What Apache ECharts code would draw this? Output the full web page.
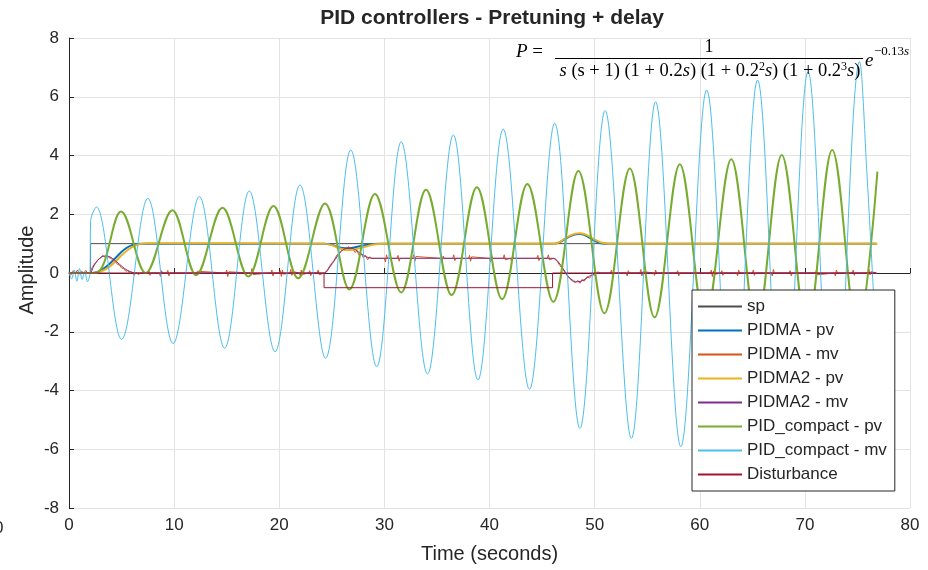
<!DOCTYPE html>
<html>
<head>
<meta charset="utf-8">
<script src="https://cdn.jsdelivr.net/npm/echarts@6/dist/echarts.min.js"></script>
<style>
  html, body { margin: 0; padding: 0; background: #fff; }
  #main { width: 928px; height: 570px; }
</style>
</head>
<body>
<div id="main"></div>
<script type="text/javascript">
// series names, in legend order
var names = ['sp', 'PIDMA - pv', 'PIDMA - mv', 'PIDMA2 - pv', 'PIDMA2 - mv',
             'PID_compact - pv', 'PID_compact - mv', 'Disturbance'];
var xTicks = [0, 80, 10];   // min, max, step
var yTicks = [-8, 8, 2];

// [time, value]
var spData = [[0, 0], [2.05, 0], [2.05, 1], [76.8, 1]];

var pidmaPv = [[0, 0], [2, 0], [2.5, 0.02], [3, 0.08], [3.5, 0.2], [4, 0.36], [4.5, 0.54], [5, 0.72],
  [5.5, 0.86], [6, 0.95], [6.5, 0.99], [7, 1], [24.3, 1], [25, 0.96], [25.5, 0.9], [26, 0.85],
  [26.5, 0.84], [27, 0.86], [27.5, 0.9], [28, 0.94], [28.5, 0.97], [29, 0.99], [29.5, 1], [46.2, 1],
  [46.7, 1.05], [47.2, 1.16], [47.7, 1.26], [48.2, 1.32], [48.6, 1.33], [49, 1.3], [49.5, 1.2],
  [50, 1.09], [50.5, 1.02], [51, 1], [76.8, 1]];

var pidma2Pv = [[0, 0], [2, 0], [2.5, 0.01], [3, 0.05], [3.5, 0.13], [4, 0.26], [4.5, 0.42], [5, 0.6],
  [5.5, 0.76], [6, 0.88], [6.5, 0.96], [7, 1], [7.5, 1.01], [24.3, 1], [25, 0.95], [25.5, 0.87],
  [26, 0.81], [26.5, 0.78], [27, 0.79], [27.5, 0.83], [28, 0.88], [28.5, 0.93], [29, 0.97],
  [29.5, 0.99], [30, 1], [46.2, 1], [46.7, 1.06], [47.2, 1.18], [47.7, 1.28], [48.2, 1.34],
  [48.6, 1.35], [49, 1.33], [49.5, 1.25], [50, 1.14], [50.5, 1.05], [51, 1.01], [51.5, 1], [76.9, 1]];

var pidmaMv = [[0, 0.02], [0.2, -0.06], [0.4, 0.08], [0.6, -0.02], [0.8, 0.1], [1.0, -0.04], [1.2, 0.06],
  [1.4, 0.0], [1.6, 0.09], [1.8, -0.03], [2.0, 0.02], [2.2, 0.18], [2.4, 0.3], [2.6, 0.38], [2.8, 0.47],
  [3.0, 0.5], [3.2, 0.6], [3.4, 0.55], [3.6, 0.62], [3.8, 0.52], [4.0, 0.5], [4.2, 0.42], [4.4, 0.4],
  [4.6, 0.3], [4.8, 0.27], [5.0, 0.17], [5.2, 0.15], [5.4, 0.06], [5.6, 0.08], [5.8, -0.02], [6.0, 0.04],
  [6.2, -0.08], [6.4, 0.02], [6.6, -0.06], [6.8, 0.0],
  [7.5, 0], [7.6, 0.1], [7.7, -0.08], [7.8, 0], [8.6, 0], [8.7, -0.12], [8.8, 0.08], [8.9, 0],
  [9.3, 0], [9.4, 0.09], [9.5, -0.1], [9.6, 0], [12.0, 0], [12.1, -0.1], [12.2, 0.06], [12.3, 0],
  [14.9, 0], [15.0, 0.1], [15.1, -0.12], [15.2, 0.04], [15.3, 0], [17.2, 0], [17.3, -0.09],
  [17.4, 0.15], [17.5, -0.05], [17.6, 0], [19.2, 0], [19.3, 0.1], [19.4, -0.1], [19.5, 0],
  [20.0, 0], [20.1, 0.08], [20.2, -0.12], [20.3, 0.1], [20.4, -0.04], [20.5, 0], [21.0, 0],
  [21.1, 0.12], [21.2, -0.08], [21.3, 0.05], [21.4, 0], [21.9, 0], [22.0, -0.1], [22.1, 0.1],
  [22.2, -0.05], [22.3, 0], [22.8, 0], [22.9, 0.08], [23.0, -0.09], [23.1, 0], [23.6, 0],
  [23.7, 0.1], [23.8, -0.06], [23.9, 0],
  [24.3, 0], [24.6, 0.12], [24.9, 0.3], [25.2, 0.42], [25.5, 0.62], [25.8, 0.72], [26.0, 0.8],
  [26.2, 0.86], [26.4, 0.78], [26.6, 0.9], [26.8, 0.8], [27.0, 0.82], [27.2, 0.7], [27.4, 0.76],
  [27.6, 0.6], [27.8, 0.66], [28.0, 0.52], [28.2, 0.6], [28.4, 0.45], [28.6, 0.55], [28.8, 0.5],
  [30.0, 0.5], [30.1, 0.38], [30.2, 0.62], [30.3, 0.5], [31.2, 0.5], [31.3, 0.6], [31.4, 0.4],
  [31.5, 0.5], [32.7, 0.5], [32.8, 0.62], [32.9, 0.4], [33.0, 0.56], [33.1, 0.5], [35.4, 0.5],
  [35.5, 0.4], [35.6, 0.58], [35.7, 0.5], [36.5, 0.5], [36.6, 0.62], [36.7, 0.42], [36.8, 0.5],
  [38.0, 0.5], [38.1, 0.6], [38.2, 0.4], [38.3, 0.55], [38.4, 0.5], [40.0, 0.5], [40.1, 0.38],
  [40.2, 0.6], [40.3, 0.5], [41.3, 0.5], [41.4, 0.62], [41.5, 0.45], [41.6, 0.5], [42.0, 0.5],
  [42.1, 0.4], [42.2, 0.6], [42.3, 0.5], [44.5, 0.5], [44.6, 0.6], [44.7, 0.42], [44.8, 0.5],
  [45.5, 0.5], [45.6, 0.62], [45.7, 0.45], [45.8, 0.5],
  [46.1, 0.5], [46.4, 0.42], [46.7, 0.25], [47.0, 0.12], [47.3, -0.05], [47.6, -0.18], [47.9, -0.28],
  [48.2, -0.33], [48.4, -0.25], [48.6, -0.35], [48.8, -0.22], [49.0, -0.28], [49.3, -0.12],
  [49.5, -0.18], [49.8, -0.05], [50.0, -0.08], [50.3, 0.04], [50.5, 0],
  [51.5, 0], [51.6, 0.1], [51.7, -0.08], [51.8, 0], [53.0, 0], [53.1, -0.1], [53.2, 0.08], [53.3, 0],
  [54.3, 0], [54.4, 0.12], [54.5, -0.1], [54.6, 0.05], [54.7, 0], [55.6, 0], [55.7, -0.08],
  [55.8, 0.1], [55.9, 0], [57.8, 0], [57.9, 0.08], [58.0, -0.1], [58.1, 0], [61.0, 0], [61.1, 0.1],
  [61.2, -0.12], [61.3, 0.06], [61.4, -0.05], [61.5, 0], [62.0, 0], [62.1, 0.08], [62.2, -0.08],
  [62.3, 0], [63.5, 0], [63.6, -0.1], [63.7, 0.1], [63.8, 0], [65.0, 0], [65.1, 0.1], [65.2, -0.08],
  [65.3, 0], [66.8, 0], [66.9, -0.1], [67.0, 0.12], [67.1, 0], [68.5, 0], [68.6, 0.08], [68.7, -0.1],
  [68.8, 0], [71.0, 0], [71.1, 0.1], [71.2, -0.06], [71.3, 0], [72.8, 0], [72.9, -0.1], [73.0, 0.1],
  [73.1, 0], [74.5, 0], [74.6, 0.1], [74.7, -0.08], [74.8, 0], [76.0, 0], [76.1, 0.12],
  [76.2, -0.06], [76.3, 0.05], [76.8, 0]];

var pidma2Mv = [[0, 0], [2, 0], [2.3, 0.2], [2.7, 0.42], [3.1, 0.55], [3.5, 0.58], [3.9, 0.55],
  [4.3, 0.45], [4.8, 0.3], [5.3, 0.15], [5.8, 0.05], [6.3, 0], [24.3, 0], [24.8, 0.2], [25.3, 0.45],
  [25.8, 0.7], [26.3, 0.83], [26.8, 0.85], [27.3, 0.78], [27.8, 0.65], [28.3, 0.55], [28.8, 0.5],
  [46.1, 0.5], [46.5, 0.4], [47, 0.15], [47.5, -0.12], [48, -0.27], [48.4, -0.3], [48.9, -0.25],
  [49.4, -0.13], [49.9, -0.04], [50.4, 0], [76.8, 0]];

// PID_compact: peaks and troughs
var compactPv = [[0, 0], [2.52, 0], [4.95, 2.09], [7.3, 0.0], [9.83, 2.14], [12.1, -0.07],
  [14.6, 2.22], [17.06, -0.12], [19.45, 2.28], [21.8, -0.18], [24.35, 2.37], [26.67, -0.56],
  [29.1, 2.69], [31.6, -0.66], [33.96, 2.83], [36.4, -0.75], [38.8, 2.92], [41.2, -0.89],
  [43.6, 3.03], [46.07, -0.98], [48.45, 3.47], [50.93, -1.37], [53.35, 3.56], [55.7, -1.51],
  [58.1, 3.7], [60.5, -1.65], [63.0, 3.87], [65.4, -1.8], [67.8, 4.02], [70.2, -1.9],
  [72.6, 4.19], [75.0, -2.0], [76.9, 3.45]];

var compactMv = [[0, 0.05], [0.25, -0.2], [0.5, 0.1], [0.75, -0.28], [1.0, 0.15], [1.25, -0.22],
  [1.5, 0.05], [1.75, -0.3], [2.0, 0], [2.05, 1.75], [2.6, 2.25], [5.0, -2.26], [7.5, 2.54],
  [9.9, -2.4], [12.4, 2.6], [14.8, -2.56], [17.15, 2.79], [19.6, -2.68], [21.97, 3.0], [24.4, -2.9],
  [26.8, 4.19], [29.27, -3.19], [31.6, 4.47], [34.1, -3.44], [36.56, 4.7], [38.9, -3.64],
  [41.3, 4.9], [43.8, -3.96], [46.2, 5.1], [48.6, -5.29], [51.0, 5.53], [53.5, -5.63], [55.8, 5.83],
  [58.2, -5.91], [60.66, 6.23], [63.1, -6.2], [65.5, 6.57], [67.9, -6.5], [70.3, 6.85],
  [72.7, -6.8], [75.2, 7.19], [75.9, 3.4], [76.6, -1.2]];

var disturbance = [[0, 0], [24.26, 0], [24.26, -0.5], [46.0, -0.5], [46.0, 0], [76.8, 0]];

var colors = ['#4d4d4d', '#0072BD', '#D95319', '#EDB120', '#7E2F8E', '#77AC30', '#4DBEEE', '#A2142F'];
var widths = [1, 2, 1, 2, 1, 2, 1, 1];
var smooths = [false, 0.3, false, 0.3, 0.3, 0.36, 0.36, false];
var allData = [spData, pidmaPv, pidmaMv, pidma2Pv, pidma2Mv, compactPv, compactMv, disturbance];

var sans = '"Liberation Sans", Arial, sans-serif';
var serif = '"Liberation Serif", "DejaVu Serif", serif';
var ink = '#262626';

var series = [];
for (var i = 0; i < names.length; i++) {
  series.push({
    name: names[i],
    type: 'line',
    data: allData[i],
    symbol: 'none',
    smooth: smooths[i],
    lineStyle: { color: colors[i], width: widths[i] },
    itemStyle: { color: colors[i] },
    z: 2 + i
  });
}

var chart = echarts.init(document.getElementById('main'));
var option = {
  animation: false,
  backgroundColor: '#fff',
  grid: { left: 69, right: 18, top: 38, bottom: 62 },
  legend: {
    data: names,
    orient: 'vertical',
    left: 692,
    top: 290,
    backgroundColor: '#fff',
    borderColor: ink,
    borderWidth: 1,
    borderRadius: 0,
    padding: [8, 8, 8, 5],
    itemGap: 7,
    itemWidth: 44,
    itemHeight: 14,
    itemStyle: { color: 'rgba(0,0,0,0)', borderWidth: 0, opacity: 0 },
    textStyle: { fontFamily: sans, fontSize: 17, color: ink },
    z: 20
  },
  xAxis: {
    type: 'value',
    min: xTicks[0], max: xTicks[1], interval: xTicks[2],
    name: 'Time (seconds)',
    nameLocation: 'middle',
    nameGap: 36,
    nameTextStyle: { fontFamily: sans, fontSize: 20, color: ink },
    axisLine: { lineStyle: { color: ink, width: 1 } },
    axisTick: { inside: true, length: 5, lineStyle: { color: ink } },
    axisLabel: { fontFamily: sans, fontSize: 17, color: ink, margin: 9 },
    splitLine: { show: true, lineStyle: { color: '#e3e3e3' } }
  },
  yAxis: {
    type: 'value',
    min: yTicks[0], max: yTicks[1], interval: yTicks[2],
    axisLine: { show: true, lineStyle: { color: ink, width: 1 } },
    axisTick: { show: true, inside: true, length: 5, lineStyle: { color: ink } },
    axisLabel: { fontFamily: sans, fontSize: 17, color: ink, margin: 10 },
    splitLine: { show: true, lineStyle: { color: '#e3e3e3' } }
  },
  graphic: [
    { type: 'text', x: 492, y: 18, z: 30,
      style: { text: 'PID controllers - Pretuning + delay', textAlign: 'center', textVerticalAlign: 'middle',
               font: 'bold 21px ' + sans, fill: ink } },
    { type: 'text', x: 27, y: 270, rotation: Math.PI / 2, z: 30,
      style: { text: 'Amplitude', textAlign: 'center', textVerticalAlign: 'middle',
               font: '20px ' + sans, fill: ink } },
    { type: 'text', x: -6, y: 528, z: 30,
      style: { text: '0', textAlign: 'left', textVerticalAlign: 'middle', font: '17px ' + sans, fill: ink } },
    // formula
    { type: 'text', x: 516, y: 52, z: 30,
      style: { text: '{i|P} =', textVerticalAlign: 'middle', fill: '#000',
               rich: { i: { fontStyle: 'italic', fontFamily: serif, fontSize: 19 } },
               font: '19px ' + serif } },
    { type: 'text', x: 709, y: 47, z: 30,
      style: { text: '1', textAlign: 'center', textVerticalAlign: 'middle', font: '18px ' + serif, fill: '#000' } },
    { type: 'line', z: 30, shape: { x1: 555, y1: 58.5, x2: 863, y2: 58.5 },
      style: { stroke: '#000', lineWidth: 1 } },
    { type: 'text', x: 710, y: 71, z: 30,
      style: {
        text: '{i|s} (s + 1) (1 + 0.2{i|s}) (1 + 0.2{sup|2}{i|s}) (1 + 0.2{sup|3}{i|s})',
        textAlign: 'center', textVerticalAlign: 'middle', fill: '#000',
        font: '18.5px ' + serif,
        rich: {
          i: { fontStyle: 'italic', fontFamily: serif, fontSize: 18.5 },
          sup: { fontFamily: serif, fontSize: 12, verticalAlign: 'top', padding: [0, 0, 9, 0] }
        }
      } },
    { type: 'text', x: 865, y: 61, z: 30,
      style: { text: 'e', textVerticalAlign: 'middle', font: 'italic 19px ' + serif, fill: '#000' } },
    { type: 'text', x: 874, y: 52, z: 30,
      style: { text: '\u22120.13{i|s}', textVerticalAlign: 'middle', font: '13px ' + serif, fill: '#000',
               rich: { i: { fontStyle: 'italic', fontFamily: serif, fontSize: 13 } } } }
  ],
  series: series
};
chart.setOption(option);
</script>
</body>
</html>
